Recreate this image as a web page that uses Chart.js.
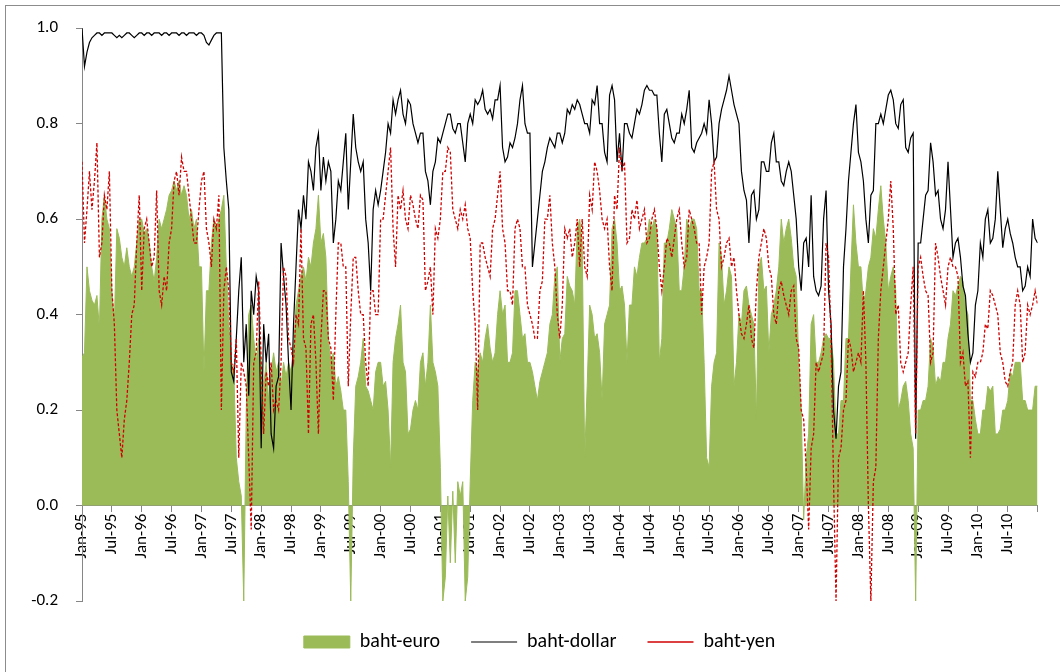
<!DOCTYPE html>
<html>
<head>
<meta charset="utf-8">
<title>Baht correlations</title>
<script src="https://cdn.jsdelivr.net/npm/chart.js@4.4.0/dist/chart.umd.min.js"></script>
<style>
  html, body { margin: 0; padding: 0; background: #fff; overflow: hidden; }
  #frame { position: absolute; left: 5px; top: 5px; width: 1100px; height: 700px;
           border-left: 1px solid #8c8c8c; border-top: 1px solid #8c8c8c; }
  #wrap { position: absolute; left: 0; top: 0; width: 1060px; height: 672px; }
</style>
</head>
<body>
<div id="frame"></div>
<div id="wrap"><canvas id="corrChart"></canvas></div>
<script>
// readings every half month, Jan-95 .. Dec-10 (one row per year), plus the right edge
const bahtEuro = [
  0.31, 0.32, 0.5, 0.45, 0.43, 0.42, 0.44, 0.37, 0.6, 0.65, 0.6, 0.58, 0.45, 0.38, 0.58, 0.56, 0.52, 0.5, 0.54, 0.5, 0.48, 0.5, 0.55, 0.6,
  0.6, 0.57, 0.58, 0.55, 0.5, 0.47, 0.52, 0.6, 0.58, 0.6, 0.62, 0.65, 0.66, 0.68, 0.66, 0.68, 0.65, 0.67, 0.65, 0.6, 0.62, 0.58, 0.6, 0.5,
  0.5, 0.28, 0.45, 0.45, 0.55, 0.6, 0.58, 0.6, 0.62, 0.65, 0.5, 0.38, 0.3, 0.28, 0.1, 0.05, 0.02, -0.2, 0.2, 0.4, 0.42, 0.35, 0.3, 0.35,
  0.3, 0.25, 0.3, 0.22, 0.28, 0.32, 0.28, 0.3, 0.25, 0.3, 0.27, 0.3, 0.28, 0.32, 0.42, 0.45, 0.48, 0.5, 0.47, 0.52, 0.5, 0.55, 0.58, 0.65,
  0.55, 0.57, 0.52, 0.35, 0.3, 0.32, 0.25, 0.27, 0.24, 0.2, 0.2, 0.05, -0.2, 0.1, 0.25, 0.27, 0.3, 0.35, 0.25, 0.24, 0.22, 0.2, 0.28, 0.3,
  0.3, 0.25, 0.26, 0.2, 0.08, 0.3, 0.35, 0.38, 0.42, 0.3, 0.28, 0.15, 0.16, 0.2, 0.22, 0.2, 0.3, 0.32, 0.25, 0.3, 0.42, 0.3, 0.28, 0.25,
  0.08, -0.2, -0.15, 0.02, -0.12, 0.03, -0.12, 0.05, 0.02, 0.05, -0.2, -0.15, 0.05, 0.22, 0.3, 0.28, 0.32, 0.3, 0.35, 0.38, 0.33, 0.3, 0.32, 0.4,
  0.45, 0.4, 0.42, 0.3, 0.3, 0.32, 0.45, 0.45, 0.4, 0.35, 0.36, 0.3, 0.3, 0.28, 0.25, 0.22, 0.26, 0.28, 0.3, 0.32, 0.38, 0.4, 0.48, 0.5,
  0.3, 0.35, 0.36, 0.48, 0.46, 0.45, 0.42, 0.58, 0.6, 0.55, 0.1, 0.25, 0.42, 0.4, 0.35, 0.36, 0.32, 0.22, 0.38, 0.4, 0.42, 0.58, 0.6, 0.55,
  0.45, 0.46, 0.42, 0.3, 0.42, 0.42, 0.5, 0.48, 0.52, 0.55, 0.55, 0.56, 0.6, 0.58, 0.6, 0.58, 0.3, 0.35, 0.55, 0.55, 0.58, 0.62, 0.6, 0.58,
  0.45, 0.45, 0.5, 0.6, 0.58, 0.6, 0.6, 0.58, 0.45, 0.45, 0.3, 0.1, 0.08, 0.25, 0.3, 0.32, 0.55, 0.52, 0.42, 0.45, 0.5, 0.48, 0.25, 0.3,
  0.4, 0.38, 0.45, 0.46, 0.42, 0.4, 0.38, 0.18, 0.5, 0.52, 0.45, 0.46, 0.32, 0.4, 0.42, 0.45, 0.5, 0.6, 0.55, 0.58, 0.6, 0.56, 0.5, 0.48,
  0.3, 0.2, -0.03, 0.1, 0.15, 0.38, 0.4, 0.3, 0.3, 0.32, 0.35, 0.36, 0.35, 0.35, 0.3, 0.15, 0.15, 0.22, 0.22, 0.35, 0.35, 0.5, 0.63, 0.55,
  0.5, 0.5, 0.42, 0.45, 0.5, 0.52, 0.58, 0.56, 0.62, 0.67, 0.6, 0.55, 0.45, 0.48, 0.5, 0.45, 0.2, 0.22, 0.25, 0.26, 0.22, 0.15, 0.12, -0.2,
  0.2, 0.2, 0.22, 0.22, 0.25, 0.35, 0.33, 0.25, 0.27, 0.26, 0.3, 0.3, 0.35, 0.38, 0.45, 0.44, 0.46, 0.48, 0.47, 0.42, 0.4, 0.22, 0.22, 0.18,
  0.15, 0.15, 0.2, 0.2, 0.25, 0.24, 0.25, 0.15, 0.15, 0.16, 0.2, 0.2, 0.22, 0.28, 0.27, 0.3, 0.3, 0.3, 0.22, 0.22, 0.2, 0.2, 0.2, 0.25,
  0.25
];

const bahtDollar = [
  1.0, 0.92, 0.95, 0.97, 0.98, 0.985, 0.99, 0.99, 0.985, 0.99, 0.99, 0.99, 0.99, 0.985, 0.98, 0.985, 0.98, 0.985, 0.99, 0.99, 0.985, 0.98, 0.985, 0.99,
  0.99, 0.985, 0.99, 0.99, 0.985, 0.99, 0.99, 0.99, 0.985, 0.99, 0.99, 0.985, 0.99, 0.99, 0.99, 0.985, 0.99, 0.99, 0.985, 0.99, 0.99, 0.99, 0.985, 0.99,
  0.99, 0.985, 0.97, 0.965, 0.975, 0.985, 0.99, 0.99, 0.99, 0.75, 0.68, 0.62, 0.28, 0.26, 0.35, 0.45, 0.52, 0.3, 0.38, 0.23, 0.45, 0.4, 0.48, 0.45,
  0.12, 0.38, 0.3, 0.36, 0.15, 0.12, 0.25, 0.27, 0.55, 0.48, 0.42, 0.3, 0.2, 0.38, 0.5, 0.62, 0.58, 0.65, 0.6, 0.72, 0.7, 0.66, 0.75, 0.78,
  0.66, 0.73, 0.68, 0.72, 0.7, 0.55, 0.6, 0.68, 0.66, 0.72, 0.78, 0.62, 0.72, 0.82, 0.75, 0.72, 0.7, 0.72, 0.6, 0.55, 0.45, 0.62, 0.66, 0.63,
  0.66, 0.7, 0.74, 0.8, 0.78, 0.85, 0.82, 0.85, 0.87, 0.82, 0.8, 0.85, 0.84, 0.8, 0.78, 0.76, 0.78, 0.78, 0.7, 0.68, 0.63, 0.7, 0.72, 0.77,
  0.76, 0.78, 0.8, 0.82, 0.82, 0.79, 0.78, 0.8, 0.8, 0.76, 0.72, 0.8, 0.82, 0.8, 0.85, 0.84, 0.85, 0.87, 0.83, 0.82, 0.83, 0.81, 0.85, 0.85,
  0.88, 0.75, 0.72, 0.73, 0.76, 0.75, 0.77, 0.8, 0.85, 0.88, 0.8, 0.78, 0.78, 0.5, 0.55, 0.6, 0.65, 0.7, 0.72, 0.75, 0.77, 0.76, 0.75, 0.78,
  0.78, 0.76, 0.78, 0.83, 0.82, 0.84, 0.83, 0.85, 0.84, 0.82, 0.8, 0.8, 0.78, 0.85, 0.84, 0.88, 0.8, 0.8, 0.74, 0.72, 0.86, 0.88, 0.85, 0.72,
  0.78, 0.7, 0.8, 0.8, 0.78, 0.77, 0.8, 0.83, 0.82, 0.84, 0.87, 0.88, 0.87, 0.87, 0.86, 0.86, 0.78, 0.72, 0.82, 0.83, 0.8, 0.77, 0.76, 0.78,
  0.78, 0.82, 0.8, 0.83, 0.87, 0.75, 0.74, 0.76, 0.77, 0.78, 0.8, 0.78, 0.85, 0.8, 0.72, 0.73, 0.8, 0.83, 0.85, 0.87, 0.9, 0.87, 0.84, 0.82,
  0.8, 0.7, 0.66, 0.64, 0.55, 0.65, 0.66, 0.6, 0.62, 0.72, 0.72, 0.7, 0.7, 0.76, 0.78, 0.72, 0.72, 0.68, 0.67, 0.7, 0.72, 0.7, 0.65, 0.6,
  0.5, 0.45, 0.55, 0.56, 0.5, 0.65, 0.48, 0.45, 0.44, 0.46, 0.6, 0.66, 0.45, 0.38, 0.2, 0.14, 0.25, 0.28, 0.5, 0.58, 0.68, 0.74, 0.8, 0.84,
  0.74, 0.72, 0.68, 0.6, 0.55, 0.65, 0.66, 0.8, 0.8, 0.82, 0.8, 0.83, 0.86, 0.87, 0.85, 0.8, 0.79, 0.84, 0.85, 0.75, 0.74, 0.77, 0.78, 0.14,
  0.55, 0.55, 0.6, 0.65, 0.66, 0.76, 0.72, 0.65, 0.66, 0.6, 0.58, 0.62, 0.72, 0.62, 0.52, 0.55, 0.56, 0.52, 0.46, 0.44, 0.36, 0.3, 0.32, 0.42,
  0.45, 0.55, 0.52, 0.6, 0.62, 0.55, 0.56, 0.6, 0.7, 0.62, 0.54, 0.58, 0.6, 0.57, 0.55, 0.52, 0.5, 0.5, 0.45, 0.46, 0.5, 0.48, 0.6, 0.56,
  0.55
];

const bahtYen = [
  0.72, 0.55, 0.62, 0.7, 0.62, 0.68, 0.76, 0.52, 0.55, 0.65, 0.62, 0.7, 0.45, 0.38, 0.2, 0.15, 0.1, 0.18, 0.22, 0.3, 0.4, 0.42, 0.55, 0.65,
  0.45, 0.58, 0.6, 0.55, 0.5, 0.52, 0.66, 0.45, 0.42, 0.48, 0.45, 0.55, 0.58, 0.68, 0.7, 0.65, 0.73, 0.7, 0.7, 0.65, 0.6, 0.55, 0.55, 0.62,
  0.68, 0.7, 0.58, 0.55, 0.5, 0.6, 0.58, 0.65, 0.2, 0.45, 0.5, 0.45, 0.3, 0.28, 0.35, 0.1, 0.3, 0.28, 0.25, 0.1, -0.05, 0.3, 0.32, 0.47,
  0.3, 0.15, 0.28, 0.25, 0.3, 0.2, 0.22, 0.2, 0.3, 0.5, 0.48, 0.35, 0.33, 0.3, 0.4, 0.38, 0.58, 0.35, 0.33, 0.15, 0.38, 0.4, 0.3, 0.15,
  0.35, 0.45, 0.45, 0.35, 0.33, 0.22, 0.4, 0.55, 0.55, 0.5, 0.5, 0.25, 0.4, 0.52, 0.52, 0.45, 0.4, 0.4, 0.3, 0.25, 0.45, 0.45, 0.4, 0.4,
  0.6, 0.6, 0.65, 0.7, 0.75, 0.58, 0.5, 0.65, 0.62, 0.66, 0.6, 0.58, 0.65, 0.63, 0.6, 0.58, 0.65, 0.64, 0.45, 0.47, 0.5, 0.4, 0.58, 0.56,
  0.6, 0.7, 0.7, 0.75, 0.74, 0.62, 0.6, 0.58, 0.62, 0.6, 0.63, 0.58, 0.56, 0.45, 0.38, 0.2, 0.55, 0.55, 0.52, 0.5, 0.48, 0.58, 0.6, 0.65,
  0.7, 0.58, 0.55, 0.45, 0.45, 0.42, 0.58, 0.6, 0.58, 0.5, 0.5, 0.42, 0.4, 0.38, 0.35, 0.35, 0.45, 0.47, 0.6, 0.6, 0.65, 0.55, 0.5, 0.4,
  0.35, 0.42, 0.58, 0.56, 0.58, 0.52, 0.55, 0.6, 0.5, 0.6, 0.5, 0.48, 0.65, 0.62, 0.72, 0.7, 0.66, 0.6, 0.58, 0.6, 0.5, 0.45, 0.65, 0.62,
  0.75, 0.7, 0.72, 0.55, 0.56, 0.62, 0.6, 0.64, 0.58, 0.6, 0.62, 0.55, 0.56, 0.6, 0.62, 0.58, 0.5, 0.45, 0.5, 0.56, 0.55, 0.52, 0.56, 0.6,
  0.62, 0.55, 0.5, 0.52, 0.62, 0.6, 0.58, 0.55, 0.55, 0.4, 0.5, 0.52, 0.55, 0.7, 0.72, 0.62, 0.6, 0.5, 0.52, 0.55, 0.56, 0.5, 0.52, 0.45,
  0.4, 0.36, 0.35, 0.38, 0.42, 0.35, 0.33, 0.45, 0.52, 0.55, 0.58, 0.56, 0.5, 0.48, 0.4, 0.38, 0.45, 0.47, 0.44, 0.42, 0.4, 0.45, 0.46, 0.35,
  0.33, 0.2, 0.18, 0.08, -0.05, 0.12, 0.15, 0.3, 0.28, 0.3, 0.32, 0.55, 0.52, 0.35, 0.05, -0.2, 0.1, 0.12, 0.2, 0.22, 0.35, 0.33, 0.28, 0.3,
  0.32, 0.3, 0.45, 0.3, 0.0, -0.2, 0.05, 0.08, 0.35, 0.45, 0.5, 0.55, 0.6, 0.68, 0.58, 0.4, 0.42, 0.3, 0.28, 0.3, 0.32, 0.42, 0.5, 0.15,
  0.5, 0.52, 0.48, 0.45, 0.44, 0.3, 0.32, 0.55, 0.52, 0.48, 0.45, 0.42, 0.5, 0.52, 0.5, 0.5, 0.48, 0.3, 0.32, 0.25, 0.26, 0.1, 0.28, 0.27,
  0.3, 0.3, 0.32, 0.38, 0.37, 0.45, 0.44, 0.42, 0.4, 0.32, 0.3, 0.26, 0.25, 0.28, 0.3, 0.42, 0.45, 0.42, 0.3, 0.32, 0.42, 0.4, 0.42, 0.45,
  0.42
];

// one label every six months
const tickLabels = ['Jan-95', 'Jul-95', 'Jan-96', 'Jul-96', 'Jan-97', 'Jul-97', 'Jan-98', 'Jul-98',
  'Jan-99', 'Jul-99', 'Jan-00', 'Jul-00', 'Jan-01', 'Jul-01', 'Jan-02', 'Jul-02',
  'Jan-03', 'Jul-03', 'Jan-04', 'Jul-04', 'Jan-05', 'Jul-05', 'Jan-06', 'Jul-06',
  'Jan-07', 'Jul-07', 'Jan-08', 'Jul-08', 'Jan-09', 'Jul-09', 'Jan-10', 'Jul-10'];

// x is counted in months from Jan-95, two readings per month
function toPoints(values) {
    return values.map(function(v, i) { return { x: i / 2, y: v }; });
}

Chart.defaults.font.family = "Carlito, Calibri, Lato, 'Open Sans', sans-serif";
Chart.defaults.font.size = 17;
Chart.defaults.color = '#000';

const axisGrey = '#868686';

new Chart(document.getElementById('corrChart').getContext('2d'), {
    type: 'line',
    data: {
        datasets: [{
            label: 'baht-euro',
            data: toPoints(bahtEuro),
            backgroundColor: '#9bbb59',
            borderColor: '#9bbb59',
            borderWidth: 1,
            fill: 'origin',
            pointRadius: 0,
            pointStyle: 'rect',
            order: 2
        }, {
            label: 'baht-dollar',
            data: toPoints(bahtDollar),
            borderColor: '#000',
            backgroundColor: '#000',
            borderWidth: 1.2,
            fill: false,
            pointRadius: 0,
            pointStyle: 'line',
            order: 1
        }, {
            label: 'baht-yen',
            data: toPoints(bahtYen),
            borderColor: '#d00000',
            backgroundColor: '#d00000',
            borderWidth: 1.3,
            borderDash: [3, 2],
            fill: false,
            pointRadius: 0,
            pointStyle: 'line',
            order: 0
        }]
    },
    options: {
        responsive: true,
        maintainAspectRatio: false,
        animation: false,
        events: [],
        layout: { padding: { left: 31, right: 12, top: 26, bottom: 10 } },
        plugins: {
            legend: {
                position: 'bottom',
                labels: {
                    usePointStyle: true,
                    pointStyleWidth: 46,
                    boxHeight: 12,
                    padding: 31,
                    color: '#000',
                    font: { size: 20 },
                    sort: function(a, b) { return a.datasetIndex - b.datasetIndex; }
                }
            },
            tooltip: { enabled: false }
        },
        scales: {
            x: {
                type: 'linear',
                position: { y: 0 },
                z: 1,
                min: 0,
                max: 192,
                ticks: {
                    stepSize: 6,
                    autoSkip: false,
                    minRotation: 90,
                    maxRotation: 90,
                    padding: 2,
                    font: { size: 17 },
                    callback: function(value) {
                        return tickLabels[Math.round(value / 6)] || '';
                    }
                },
                grid: { drawOnChartArea: false, drawTicks: true, tickLength: 6, color: axisGrey },
                border: { color: axisGrey }
            },
            y: {
                min: -0.2,
                max: 1.0,
                afterFit: function(scale) { scale.width = 51; },
                ticks: {
                    stepSize: 0.2,
                    padding: 18,
                    font: { size: 17 },
                    callback: function(value) {
                        return Math.abs(value) < 1e-9 ? '0.0' : value.toFixed(1);
                    }
                },
                grid: { drawOnChartArea: false, drawTicks: true, tickLength: 6, color: axisGrey },
                border: { color: axisGrey }
            }
        }
    }
});
</script>
</body>
</html>
